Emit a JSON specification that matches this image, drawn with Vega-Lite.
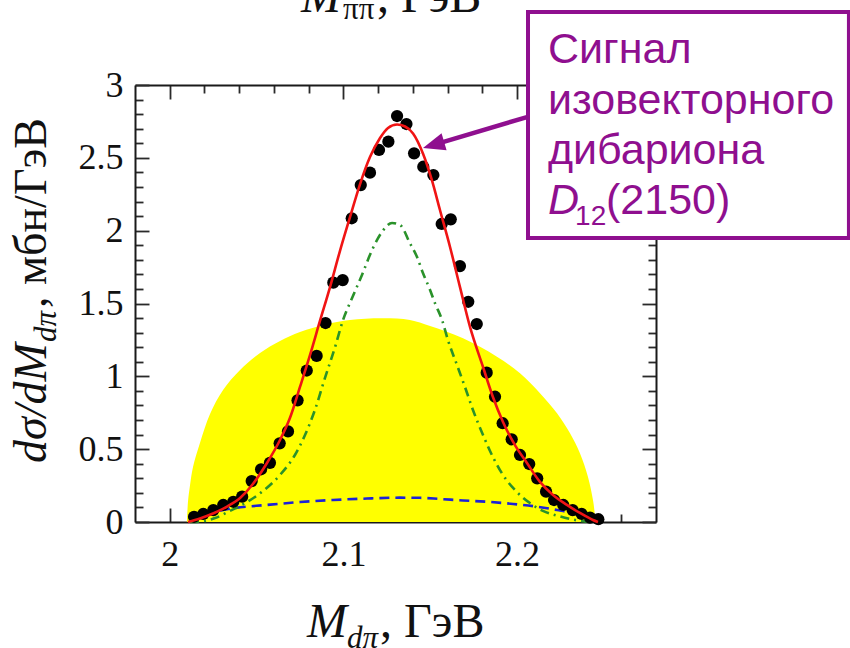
{
  "$schema": "https://vega.github.io/schema/vega-lite/v6.json",
  "width": 521,
  "height": 437,
  "autosize": "none",
  "padding": {"left": 135, "top": 85, "right": 194, "bottom": 126},
  "background": "white",
  "config": {
    "view": {"stroke": null},
    "axis": {
      "grid": false,
      "zindex": 1,
      "domainColor": "#1a1a1a",
      "domainWidth": 2,
      "tickColor": "#2a2a2a",
      "tickWidth": 1.8,
      "labelFont": "Liberation Serif",
      "labelFontSize": 36,
      "labelColor": "#111111",
      "labelOverlap": false,
      "labelFlush": false,
      "labelBound": false
    }
  },
  "datasets": {
    "obs": [
      {"m": 2.0140, "v": 0.036}, {"m": 2.0193, "v": 0.055}, {"m": 2.0251, "v": 0.082},
      {"m": 2.0308, "v": 0.117}, {"m": 2.0366, "v": 0.139}, {"m": 2.0417, "v": 0.174},
      {"m": 2.0472, "v": 0.281}, {"m": 2.0526, "v": 0.362}, {"m": 2.0577, "v": 0.406},
      {"m": 2.0633, "v": 0.540}, {"m": 2.0681, "v": 0.622}, {"m": 2.0736, "v": 0.835},
      {"m": 2.0789, "v": 1.040}, {"m": 2.0846, "v": 1.140}, {"m": 2.0897, "v": 1.366},
      {"m": 2.0942, "v": 1.643}, {"m": 2.0996, "v": 1.661}, {"m": 2.1048, "v": 2.085},
      {"m": 2.1100, "v": 2.313}, {"m": 2.1153, "v": 2.398}, {"m": 2.1205, "v": 2.554},
      {"m": 2.1259, "v": 2.611}, {"m": 2.1309, "v": 2.787}, {"m": 2.1363, "v": 2.732},
      {"m": 2.1407, "v": 2.531}, {"m": 2.1460, "v": 2.439}, {"m": 2.1518, "v": 2.382},
      {"m": 2.1566, "v": 2.046}, {"m": 2.1618, "v": 2.078}, {"m": 2.1671, "v": 1.757},
      {"m": 2.1719, "v": 1.512}, {"m": 2.1768, "v": 1.359}, {"m": 2.1825, "v": 1.025},
      {"m": 2.1873, "v": 0.860}, {"m": 2.1917, "v": 0.678}, {"m": 2.1969, "v": 0.568},
      {"m": 2.2017, "v": 0.460}, {"m": 2.2070, "v": 0.398}, {"m": 2.2116, "v": 0.300},
      {"m": 2.2167, "v": 0.208}, {"m": 2.2213, "v": 0.151}, {"m": 2.2266, "v": 0.117},
      {"m": 2.2320, "v": 0.082}, {"m": 2.2372, "v": 0.055}, {"m": 2.2420, "v": 0.030},
      {"m": 2.2468, "v": 0.019}
    ],
    "fit": [
      {"m": 2.0105, "v": 0.0}, {"m": 2.0174, "v": 0.024}, {"m": 2.0249, "v": 0.058},
      {"m": 2.0330, "v": 0.106}, {"m": 2.0405, "v": 0.165}, {"m": 2.0479, "v": 0.261},
      {"m": 2.0560, "v": 0.405}, {"m": 2.0635, "v": 0.563}, {"m": 2.0692, "v": 0.714},
      {"m": 2.0750, "v": 0.927}, {"m": 2.0808, "v": 1.147}, {"m": 2.0865, "v": 1.380},
      {"m": 2.0923, "v": 1.613}, {"m": 2.0980, "v": 1.860}, {"m": 2.1038, "v": 2.093},
      {"m": 2.1096, "v": 2.320}, {"m": 2.1153, "v": 2.505}, {"m": 2.1211, "v": 2.636},
      {"m": 2.1257, "v": 2.705}, {"m": 2.1309, "v": 2.729}, {"m": 2.1355, "v": 2.715},
      {"m": 2.1401, "v": 2.667}, {"m": 2.1458, "v": 2.530}, {"m": 2.1510, "v": 2.345},
      {"m": 2.1556, "v": 2.142}, {"m": 2.1614, "v": 1.888}, {"m": 2.1671, "v": 1.614},
      {"m": 2.1729, "v": 1.339}, {"m": 2.1804, "v": 1.064}, {"m": 2.1861, "v": 0.858},
      {"m": 2.1919, "v": 0.687}, {"m": 2.1988, "v": 0.528}, {"m": 2.2057, "v": 0.405},
      {"m": 2.2132, "v": 0.275}, {"m": 2.2207, "v": 0.185}, {"m": 2.2287, "v": 0.117},
      {"m": 2.2362, "v": 0.062}, {"m": 2.2437, "v": 0.014}, {"m": 2.2466, "v": 0.0}
    ],
    "d12": [
      {"m": 2.0117, "v": 0.0}, {"m": 2.0174, "v": 0.003}, {"m": 2.0261, "v": 0.027},
      {"m": 2.0347, "v": 0.076}, {"m": 2.0445, "v": 0.137}, {"m": 2.0537, "v": 0.213},
      {"m": 2.0635, "v": 0.323}, {"m": 2.0721, "v": 0.460}, {"m": 2.0779, "v": 0.597},
      {"m": 2.0836, "v": 0.769}, {"m": 2.0894, "v": 0.989}, {"m": 2.0952, "v": 1.201},
      {"m": 2.0998, "v": 1.387}, {"m": 2.1050, "v": 1.538}, {"m": 2.1107, "v": 1.696},
      {"m": 2.1165, "v": 1.867}, {"m": 2.1222, "v": 1.991}, {"m": 2.1280, "v": 2.053},
      {"m": 2.1326, "v": 2.039}, {"m": 2.1383, "v": 1.915}, {"m": 2.1424, "v": 1.819},
      {"m": 2.1458, "v": 1.709}, {"m": 2.1499, "v": 1.593}, {"m": 2.1527, "v": 1.503},
      {"m": 2.1568, "v": 1.387}, {"m": 2.1602, "v": 1.249}, {"m": 2.1654, "v": 1.078},
      {"m": 2.1700, "v": 0.927}, {"m": 2.1746, "v": 0.769}, {"m": 2.1804, "v": 0.597},
      {"m": 2.1861, "v": 0.446}, {"m": 2.1919, "v": 0.323}, {"m": 2.1999, "v": 0.206},
      {"m": 2.2074, "v": 0.130}, {"m": 2.2149, "v": 0.076}, {"m": 2.2247, "v": 0.038},
      {"m": 2.2334, "v": 0.014}, {"m": 2.2420, "v": 0.0}
    ],
    "bg": [
      {"m": 2.0117, "v": 0.002}, {"m": 2.0174, "v": 0.034}, {"m": 2.0232, "v": 0.060},
      {"m": 2.0364, "v": 0.094}, {"m": 2.0560, "v": 0.117}, {"m": 2.0750, "v": 0.137},
      {"m": 2.0940, "v": 0.151}, {"m": 2.1136, "v": 0.161}, {"m": 2.1326, "v": 0.167},
      {"m": 2.1441, "v": 0.166}, {"m": 2.1556, "v": 0.158}, {"m": 2.1689, "v": 0.148},
      {"m": 2.1827, "v": 0.139}, {"m": 2.1977, "v": 0.124}, {"m": 2.2115, "v": 0.105},
      {"m": 2.2230, "v": 0.082}, {"m": 2.2322, "v": 0.060}, {"m": 2.2403, "v": 0.025},
      {"m": 2.2437, "v": 0.002}
    ],
    "phase": [
      {"m": 2.0099, "v": 0.0}, {"m": 2.0102, "v": 0.080}, {"m": 2.0106, "v": 0.151},
      {"m": 2.0117, "v": 0.254}, {"m": 2.0134, "v": 0.378}, {"m": 2.0174, "v": 0.542},
      {"m": 2.0232, "v": 0.741}, {"m": 2.0307, "v": 0.906}, {"m": 2.0405, "v": 1.043},
      {"m": 2.0520, "v": 1.160}, {"m": 2.0635, "v": 1.243}, {"m": 2.0750, "v": 1.304},
      {"m": 2.0906, "v": 1.359}, {"m": 2.1038, "v": 1.387}, {"m": 2.1228, "v": 1.398},
      {"m": 2.1383, "v": 1.387}, {"m": 2.1499, "v": 1.345}, {"m": 2.1689, "v": 1.261},
      {"m": 2.1884, "v": 1.135}, {"m": 2.2017, "v": 1.021}, {"m": 2.2132, "v": 0.884},
      {"m": 2.2230, "v": 0.746}, {"m": 2.2305, "v": 0.609}, {"m": 2.2362, "v": 0.472},
      {"m": 2.2408, "v": 0.311}, {"m": 2.2437, "v": 0.151}, {"m": 2.2446, "v": 0.070},
      {"m": 2.2449, "v": 0.0}
    ]
  },
  "layer": [
    {
      "data": {"name": "phase"},
      "mark": {"type": "area", "color": "#ffff00", "interpolate": "catmull-rom"},
      "encoding": {
        "x": {
          "field": "m", "type": "quantitative",
          "scale": {"domain": [1.98, 2.28], "nice": false, "zero": false},
          "axis": {
            "orient": "bottom", "title": null,
            "values": [2, 2.02, 2.04, 2.06, 2.08, 2.1, 2.12, 2.14, 2.16, 2.18, 2.2, 2.22, 2.24, 2.26],
            "tickSize": {"condition": {"test": "abs(datum.value*10 - round(datum.value*10)) < 0.001", "value": -14}, "value": -8},
            "labelPadding": 29,
            "labelExpr": "abs(datum.value*10 - round(datum.value*10)) < 0.001 ? format(datum.value, '~g') : ''"
          }
        },
        "y": {
          "field": "v", "type": "quantitative",
          "scale": {"domain": [0, 3], "nice": false},
          "axis": {
            "orient": "left", "title": null,
            "values": [0, 0.1, 0.2, 0.3, 0.4, 0.5, 0.6, 0.7, 0.8, 0.9, 1, 1.1, 1.2, 1.3, 1.4, 1.5, 1.6, 1.7, 1.8, 1.9, 2, 2.1, 2.2, 2.3, 2.4, 2.5, 2.6, 2.7, 2.8, 2.9, 3],
            "tickSize": {"condition": {"test": "abs(datum.value*2 - round(datum.value*2)) < 0.001", "value": -14}, "value": -8},
            "labelPadding": 26,
            "labelExpr": "abs(datum.value*2 - round(datum.value*2)) < 0.001 ? format(datum.value, '~g') : ''"
          }
        }
      }
    },
    {
      "data": {"name": "bg"},
      "mark": {"type": "line", "color": "#1c22d8", "strokeWidth": 2.6, "strokeDash": [10, 6], "interpolate": "monotone"},
      "encoding": {
        "x": {
          "field": "m", "type": "quantitative",
          "axis": {
            "orient": "top", "title": null, "labels": false,
            "values": [2, 2.02, 2.04, 2.06, 2.08, 2.1, 2.12, 2.14, 2.16, 2.18, 2.2, 2.22, 2.24, 2.26],
            "tickSize": {"condition": {"test": "abs(datum.value*10 - round(datum.value*10)) < 0.001", "value": -14}, "value": -8}
          }
        },
        "y": {
          "field": "v", "type": "quantitative",
          "axis": {
            "orient": "right", "title": null, "labels": false,
            "values": [0, 0.1, 0.2, 0.3, 0.4, 0.5, 0.6, 0.7, 0.8, 0.9, 1, 1.1, 1.2, 1.3, 1.4, 1.5, 1.6, 1.7, 1.8, 1.9, 2, 2.1, 2.2, 2.3, 2.4, 2.5, 2.6, 2.7, 2.8, 2.9, 3],
            "tickSize": {"condition": {"test": "abs(datum.value*2 - round(datum.value*2)) < 0.001", "value": -14}, "value": -8}
          }
        }
      }
    },
    {
      "data": {"name": "d12"},
      "mark": {"type": "line", "color": "#2a922a", "strokeWidth": 2.6, "strokeDash": [9, 5, 2, 5], "interpolate": "monotone"},
      "encoding": {
        "x": {"field": "m", "type": "quantitative", "axis": null},
        "y": {"field": "v", "type": "quantitative", "axis": null}
      }
    },
    {
      "data": {"name": "obs"},
      "mark": {"type": "point", "filled": true, "color": "#000000", "size": 150, "opacity": 1},
      "encoding": {
        "x": {"field": "m", "type": "quantitative", "axis": null},
        "y": {"field": "v", "type": "quantitative", "axis": null}
      }
    },
    {
      "data": {"name": "fit"},
      "mark": {"type": "line", "color": "#f01414", "strokeWidth": 2.6, "interpolate": "monotone"},
      "encoding": {
        "x": {"field": "m", "type": "quantitative", "axis": null},
        "y": {"field": "v", "type": "quantitative", "axis": null}
      }
    },
    {
      "data": {"values": [{}]},
      "mark": {"type": "rect", "fill": "white", "stroke": "#8f0f8f", "strokeWidth": 4},
      "encoding": {
        "x": {"datum": 2.2063, "type": "quantitative", "axis": null},
        "x2": {"datum": 2.3911},
        "y": {"datum": 3.501, "type": "quantitative", "axis": null},
        "y2": {"datum": 1.950}
      }
    },
    {
      "data": {"values": [{}]},
      "mark": {"type": "text", "text": ["Сигнал", "изовекторного", "дибариона"], "font": "Liberation Sans", "fontSize": 43, "lineHeight": 50.5, "align": "left", "baseline": "alphabetic", "color": "#8f0f8f"},
      "encoding": {
        "x": {"datum": 2.2178, "type": "quantitative", "axis": null},
        "y": {"datum": 3.151, "type": "quantitative", "axis": null}
      }
    },
    {
      "data": {"values": [{}]},
      "mark": {"type": "text", "text": "D", "font": "Liberation Sans", "fontStyle": "italic", "fontSize": 43, "align": "left", "baseline": "alphabetic", "color": "#8f0f8f"},
      "encoding": {
        "x": {"datum": 2.2178, "type": "quantitative", "axis": null},
        "y": {"datum": 2.114, "type": "quantitative", "axis": null}
      }
    },
    {
      "data": {"values": [{}]},
      "mark": {"type": "text", "text": "12", "font": "Liberation Sans", "fontSize": 28, "align": "left", "baseline": "alphabetic", "color": "#8f0f8f"},
      "encoding": {
        "x": {"datum": 2.2334, "type": "quantitative", "axis": null},
        "y": {"datum": 2.039, "type": "quantitative", "axis": null}
      }
    },
    {
      "data": {"values": [{}]},
      "mark": {"type": "text", "text": "(2150)", "font": "Liberation Sans", "fontSize": 43, "align": "left", "baseline": "alphabetic", "color": "#8f0f8f"},
      "encoding": {
        "x": {"datum": 2.2512, "type": "quantitative", "axis": null},
        "y": {"datum": 2.114, "type": "quantitative", "axis": null}
      }
    },
    {
      "data": {"values": [{}]},
      "mark": {"type": "rule", "color": "#8f0f8f", "strokeWidth": 4.5},
      "encoding": {
        "x": {"datum": 2.2057, "type": "quantitative", "axis": null},
        "y": {"datum": 2.780, "type": "quantitative", "axis": null},
        "x2": {"datum": 2.1519},
        "y2": {"datum": 2.589}
      }
    },
    {
      "data": {"values": [{}]},
      "mark": {"type": "point", "shape": "M0,-1L0.8,1L-0.8,1Z", "filled": true, "opacity": 1, "color": "#8f0f8f", "size": 484, "angle": 253.4},
      "encoding": {
        "x": {"datum": 2.1519, "type": "quantitative", "axis": null},
        "y": {"datum": 2.589, "type": "quantitative", "axis": null}
      }
    },
    {
      "data": {"values": [{}]},
      "mark": {"type": "text", "text": "M", "font": "Liberation Serif", "fontStyle": "italic", "fontSize": 48, "align": "left", "baseline": "alphabetic", "color": "#111111"},
      "encoding": {
        "x": {"datum": 2.0790, "type": "quantitative", "axis": null},
        "y": {"datum": -0.789, "type": "quantitative", "axis": null}
      }
    },
    {
      "data": {"values": [{}]},
      "mark": {"type": "text", "text": "dπ", "font": "Liberation Serif", "fontStyle": "italic", "fontSize": 31, "align": "left", "baseline": "alphabetic", "color": "#111111"},
      "encoding": {
        "x": {"datum": 2.1021, "type": "quantitative", "axis": null},
        "y": {"datum": -0.865, "type": "quantitative", "axis": null}
      }
    },
    {
      "data": {"values": [{}]},
      "mark": {"type": "text", "text": ", ГэВ", "font": "Liberation Serif", "fontSize": 48, "align": "left", "baseline": "alphabetic", "color": "#111111"},
      "encoding": {
        "x": {"datum": 2.1211, "type": "quantitative", "axis": null},
        "y": {"datum": -0.789, "type": "quantitative", "axis": null}
      }
    },
    {
      "data": {"values": [{}]},
      "mark": {"type": "text", "text": "M", "font": "Liberation Serif", "fontStyle": "italic", "fontSize": 48, "align": "left", "baseline": "alphabetic", "color": "#111111"},
      "encoding": {
        "x": {"datum": 2.0756, "type": "quantitative", "axis": null},
        "y": {"datum": 3.501, "type": "quantitative", "axis": null}
      }
    },
    {
      "data": {"values": [{}]},
      "mark": {"type": "text", "text": "ππ", "font": "Liberation Serif", "fontSize": 31, "align": "left", "baseline": "alphabetic", "color": "#111111"},
      "encoding": {
        "x": {"datum": 2.0998, "type": "quantitative", "axis": null},
        "y": {"datum": 3.453, "type": "quantitative", "axis": null}
      }
    },
    {
      "data": {"values": [{}]},
      "mark": {"type": "text", "text": ", ГэВ", "font": "Liberation Serif", "fontSize": 48, "align": "left", "baseline": "alphabetic", "color": "#111111"},
      "encoding": {
        "x": {"datum": 2.1193, "type": "quantitative", "axis": null},
        "y": {"datum": 3.501, "type": "quantitative", "axis": null}
      }
    },
    {
      "data": {"values": [{}]},
      "mark": {"type": "text", "text": "dσ/dM", "font": "Liberation Serif", "fontStyle": "italic", "fontSize": 46, "angle": 270, "align": "left", "baseline": "alphabetic", "color": "#111111"},
      "encoding": {
        "x": {"datum": 1.9290, "type": "quantitative", "axis": null},
        "y": {"datum": 0.405, "type": "quantitative", "axis": null}
      }
    },
    {
      "data": {"values": [{}]},
      "mark": {"type": "text", "text": "dπ", "font": "Liberation Serif", "fontStyle": "italic", "fontSize": 31, "angle": 270, "align": "left", "baseline": "alphabetic", "color": "#111111"},
      "encoding": {
        "x": {"datum": 1.9345, "type": "quantitative", "axis": null},
        "y": {"datum": 1.236, "type": "quantitative", "axis": null}
      }
    },
    {
      "data": {"values": [{}]},
      "mark": {"type": "text", "text": ", мбн/ГэВ", "font": "Liberation Serif", "fontSize": 46, "angle": 270, "align": "left", "baseline": "alphabetic", "color": "#111111"},
      "encoding": {
        "x": {"datum": 1.9290, "type": "quantitative", "axis": null},
        "y": {"datum": 1.469, "type": "quantitative", "axis": null}
      }
    }
  ],
  "resolve": {"axis": {"x": "independent", "y": "independent"}}
}
